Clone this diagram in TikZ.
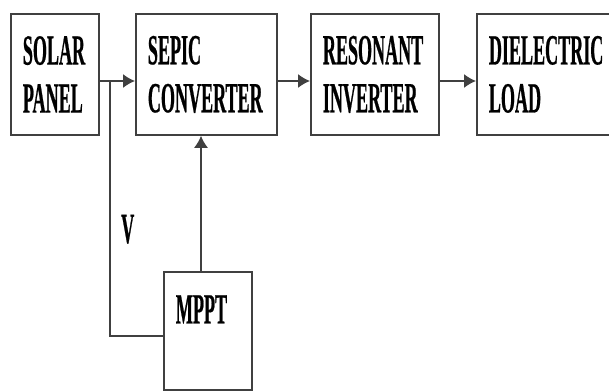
\documentclass[tikz,border=0pt]{standalone}
\usepackage{fontspec}
\setmainfont{Liberation Serif}[FakeStretch=0.42, BoldFeatures={FakeBold=0.5}]
\usetikzlibrary{arrows.meta}

\tikzset{
  block/.style={draw=black!75, line width=1.8pt, anchor=north west, align=left,
    inner xsep=12pt, inner ysep=0pt, minimum height=121pt,
    font=\fontsize{43}{48}\selectfont\bfseries},
  wire/.style={black!75, line width=1.5pt},
  arr/.style={wire, -{Latex[length=12pt,width=14pt]}}
}

\begin{document}
\begin{tikzpicture}[x=1pt, y=-1pt]
        \useasboundingbox (0,0) rectangle (609,391);
        % blocks of the chain
        \node[block, text width=64pt] (solar) at (10,13) {SOLAR\\PANEL};
        \node[block, text width=117pt] (sepic) at (135,13) {SEPIC\\CONVERTER};
        \node[block, text width=104pt] (reson) at (310,13) {RESONANT\\INVERTER};
        \node[block, text width=160pt] (load) at (476,13) {DIELECTRIC\\LOAD};
        \node[block, text width=64pt, minimum height=118pt, inner ysep=23pt,
          text height=28pt, text depth=43pt] (mppt) at (163,271) {MPPT};
        \node[font=\fontsize{43}{48}\selectfont\bfseries, anchor=base west, inner sep=0pt]
          (vlabel) at (121,243) {V};
        % connectors
        \coordinate (tap) at (110,81);
        \coordinate (vfoot) at (110,336);
        \coordinate (ctl) at (201,300);
        \draw[arr] (solar.east |- tap) -- (sepic.west |- tap);
        \draw[arr] (sepic.east |- tap) -- (reson.west |- tap);
        \draw[arr] (reson.east |- tap) -- (load.west |- tap);
        \draw[wire] (tap) -- (vfoot) -- (mppt.west |- vfoot);
        \draw[arr] (mppt.north -| ctl) -- (sepic.south -| ctl);
\end{tikzpicture}
\end{document}
